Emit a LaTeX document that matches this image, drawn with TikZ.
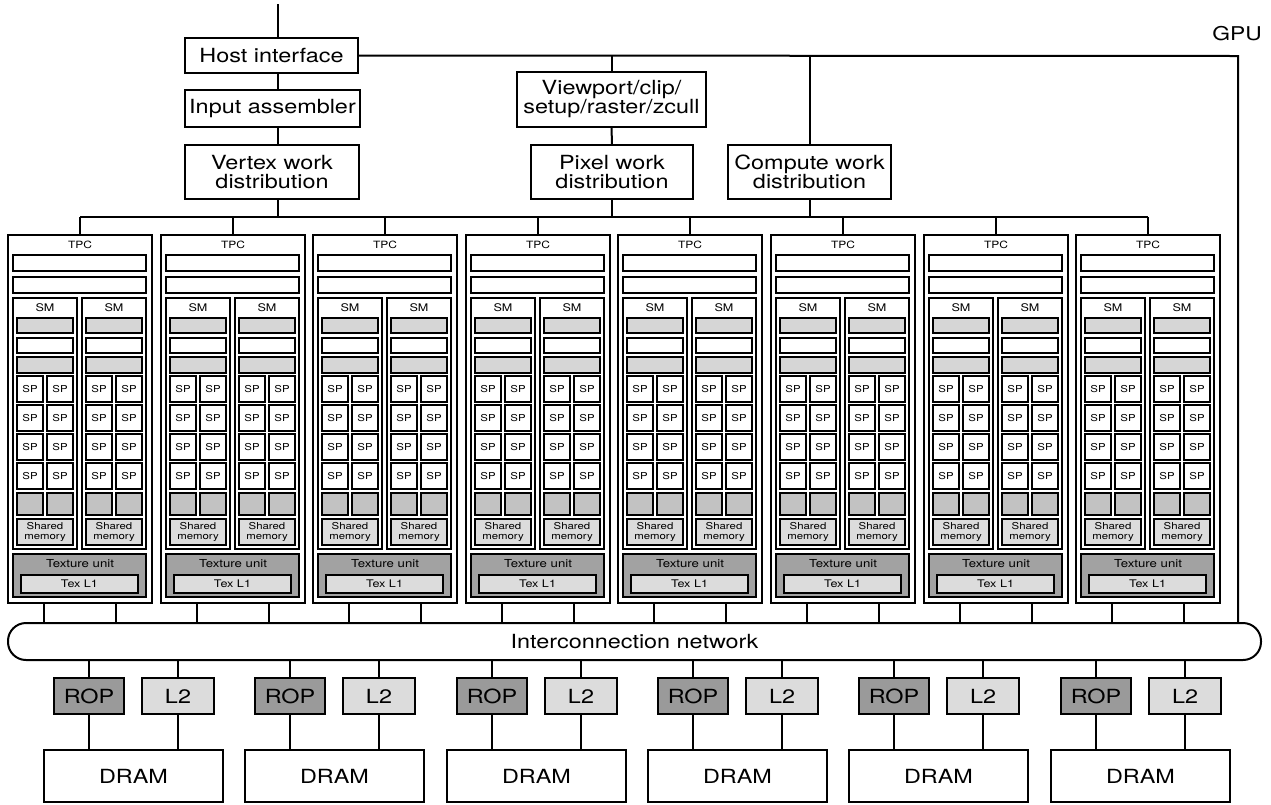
\documentclass[tikz,border=0pt]{standalone}
\usepackage{fontspec}
\setmainfont{TeX Gyre Heros}[FakeStretch=1.2]
\definecolor{smgray}{HTML}{D6D6D6}
\definecolor{sqgray}{HTML}{C2C2C2}
\definecolor{ltgray}{HTML}{DCDCDC}
\definecolor{texgray}{HTML}{A2A2A2}
\definecolor{ropgray}{HTML}{9A9A9A}
\newcommand\gbox[7]{%
  \pgfmathsetmacro\gbw{(#4)-(#2)}\pgfmathsetmacro\gbh{(#5)-(#3)}%
  \pgfmathsetmacro\gbx{((#2)+(#4))/2}\pgfmathsetmacro\gby{((#3)+(#5))/2}%
  \node[#6, minimum width=\gbw pt, minimum height=\gbh pt] (#1) at (\gbx,\gby) {#7};}
\tikzset{
  base/.style={inner sep=0pt, outer sep=0pt, align=center},
  bigbox/.style={base, draw, line width=2pt, fill=white, font=\fontsize{19.5}{19}\selectfont},
  ropbox/.style={bigbox, fill=ropgray},
  ltbox/.style={bigbox, fill=ltgray},
  tpcbox/.style={base, draw, line width=1.5pt, fill=white},
  bar/.style={base, draw, line width=2.5pt, fill=white},
  graybar/.style={bar, fill=smgray},
  smbox/.style={base, draw, line width=2.5pt, fill=white},
  spbox/.style={base, draw, line width=2.5pt, fill=white, font=\fontsize{9.5}{9.5}\selectfont},
  sqbox/.style={base, draw, line width=2pt, fill=sqgray},
  shbox/.style={base, draw, line width=2pt, fill=ltgray, font=\fontsize{9.5}{9.5}\selectfont},
  texbox/.style={base, draw, line width=2.5pt, fill=texgray},
  texlone/.style={base, draw, line width=2pt, fill=ltgray, font=\fontsize{10.5}{10.5}\selectfont},
  smalllbl/.style={base, font=\fontsize{10}{10}\selectfont},
  smlbl/.style={base, font=\fontsize{10.5}{10.5}\selectfont},
  texlbl/.style={base, font=\fontsize{11}{11}\selectfont},
  biglbl/.style={base, font=\fontsize{19}{19}\selectfont},
  icnbox/.style={bigbox, rounded corners=18pt},
  wire/.style={line width=2pt},
}
\begin{document}
\begin{tikzpicture}[x=1pt,y=-1pt]
\useasboundingbox (0,0) rectangle (1271,804);
% top boxes
\gbox{host}{185}{38}{358}{73}{bigbox}{Host interface}
\gbox{inp}{185}{90}{360}{127}{bigbox}{Input assembler}
\gbox{vert}{185}{145}{359}{199}{bigbox}{Vertex work\\distribution}
\gbox{vp}{517}{72}{706}{127}{bigbox}{Viewport/clip/\\setup/raster/zcull}
\gbox{pix}{531}{145}{693}{199}{bigbox}{Pixel work\\distribution}
\gbox{comp}{728}{145}{891}{199}{bigbox}{Compute work\\distribution}
\node[biglbl] (gpu) at (1237,34) {GPU};
% TPCs
\foreach \i in {1,...,8}{
  \pgfmathsetmacro\tpcL{round(8+152.6*(\i-1))}
  \gbox{tpc\i}{\tpcL}{235}{\tpcL+144}{603}{tpcbox}{}
  \node[smalllbl] (tpclab\i) at (\tpcL+72,245) {TPC};
  \gbox{bara\i}{\tpcL+5}{255}{\tpcL+138}{271}{bar}{}
  \gbox{barb\i}{\tpcL+5}{277}{\tpcL+138}{293}{bar}{}
  \foreach \j/\so in {1/5,2/74}{
    \pgfmathsetmacro\smS{\tpcL+\so}
    \gbox{sm\i-\j}{\smS}{298}{\smS+64}{549}{smbox}{}
    \node[smlbl] (smlab\i-\j) at (\smS+32,308) {SM};
    \gbox{ga\i-\j}{\smS+4}{318}{\smS+60}{333}{graybar}{}
    \gbox{wb\i-\j}{\smS+4}{338}{\smS+60}{353}{bar}{}
    \gbox{gc\i-\j}{\smS+4}{357}{\smS+60}{373}{graybar}{}
    \foreach \r in {0,1,2,3}{
      \foreach \c in {0,1}{
        \gbox{sp\i-\j-\r-\c}{\smS+4+30*\c}{376+29*\r}{\smS+30+30*\c}{402+29*\r}{spbox}{SP}
      }
    }
    \foreach \c in {0,1}{
      \gbox{sq\i-\j-\c}{\smS+4+30*\c}{493}{\smS+30+30*\c}{515}{sqbox}{}
    }
    \gbox{sh\i-\j}{\smS+4}{519}{\smS+60}{545}{shbox}{Shared\\memory}
  }
  \gbox{tex\i}{\tpcL+5}{554}{\tpcL+138}{597}{texbox}{}
  \node[texlbl] (texlab\i) at (\tpcL+72,563.5) {Texture unit};
  \gbox{texl\i}{\tpcL+13}{575}{\tpcL+130}{593}{texlone}{Tex L1}
}
% interconnect
\gbox{icn}{8}{623}{1261}{660}{icnbox}{Interconnection network}
% memory partitions
\foreach \k in {0,...,5}{
  \pgfmathsetmacro\mp{round(201.3*\k)}
  \gbox{rop\k}{54+\mp}{678}{124+\mp}{714}{ropbox}{ROP}
  \gbox{ltwo\k}{142+\mp}{678}{214+\mp}{714}{ltbox}{L2}
  \gbox{dram\k}{44+\mp}{750}{223+\mp}{802}{bigbox}{DRAM}
  \draw[wire] (rop\k.north |- icn.south) -- (rop\k.north);
  \draw[wire] (ltwo\k.north |- icn.south) -- (ltwo\k.north);
  \draw[wire] (rop\k.south) -- (rop\k.south |- dram\k.north);
  \draw[wire] (ltwo\k.south) -- (ltwo\k.south |- dram\k.north);
}
% connectors top
\coordinate (topin) at (278,4);
\coordinate (busy) at (0,217);
\coordinate (hr) at (1238,56);
\draw[wire] (topin) -- (topin |- host.north);
\draw[wire] (topin |- host.south) -- (topin |- inp.north);
\draw[wire] (topin |- inp.south) -- (topin |- vert.north);
\draw[wire] (topin |- vert.south) -- (topin |- busy);
\draw[wire] (host.east) -- (hr) -- (hr |- icn.north);
\draw[wire] (vp.north |- hr) -- (vp.north);
\draw[wire] (comp.north |- hr) -- (comp.north);
\draw[wire] (vp.south) -- (pix.north);
\draw[wire] (pix.south) -- (pix.south |- busy);
\draw[wire] (comp.south) -- (comp.south |- busy);
\draw[wire] (tpc1.north |- busy) -- (tpc8.north |- busy);
\foreach \i in {1,...,8}{
  \draw[wire] (tpc\i.north |- busy) -- (tpc\i.north);
  \draw[wire] ([xshift=36pt]tpc\i.south west) -- ([xshift=36pt]tpc\i.south west |- icn.north);
  \draw[wire] ([xshift=108pt]tpc\i.south west) -- ([xshift=108pt]tpc\i.south west |- icn.north);
}
\end{tikzpicture}
\end{document}
